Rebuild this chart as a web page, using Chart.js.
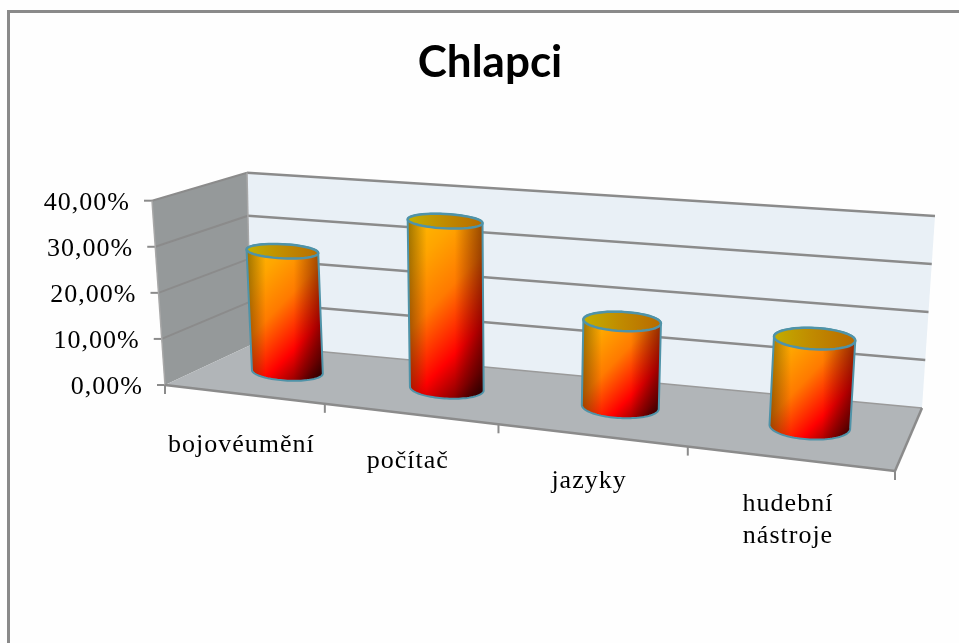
<!DOCTYPE html>
<html>
<head>
<meta charset="utf-8">
<title>Chlapci</title>
<style>html,body{margin:0;padding:0;background:#fefefe;overflow:hidden}canvas{display:block}</style>
<script src="https://cdn.jsdelivr.net/npm/chart.js@4"></script>
</head>
<body>
<canvas id="chart" width="959" height="643"></canvas>
<script>
// Series shown in the chart
const chartTitle = 'Chlapci';
const categories = ['bojovéumění', 'počítač', 'jazyky', ['hudební', 'nástroje']];
const shares = [26.7, 36, 17.8, 17.8];
const axisMax = 40;
const axisStep = 10;

// Perspective box: corners of the floor and of the ceiling plane, in canvas pixels
// (front-left, front-right, back-right, back-left).
const floorQuad = [[165, 385], [895, 471], [922, 408], [250.7, 345]];
const ceilQuad = [[152, 200.7], [915, 258], [935, 216], [247, 172.7]];
const FORESHORTENING = -0.159;
const BAR_DEPTH_CENTER = 0.53;
const BAR_DEPTH_RADIUS = 0.21;
const RING_TILT = 0.05;
const BASE_NUDGE = 2;

const lerp = (a, b, k) => [a[0] + (b[0] - a[0]) * k, a[1] + (b[1] - a[1]) * k];
const warp = u => u * (1 + FORESHORTENING) / (1 + FORESHORTENING * u);
function planeAt(q, u, v) {
  const w = warp(u);
  return lerp(lerp(q[0], q[1], w), lerp(q[3], q[2], w), v);
}

// u: along the category axis, v: depth, t: height; all 0..1
function project(u, v, t) {
  return lerp(planeAt(floorQuad, u, v), planeAt(ceilQuad, u, v), t);
}
const relU = (chart, px) => (px - chart.chartArea.left) / (chart.chartArea.right - chart.chartArea.left);
const relT = (chart, py) => (chart.chartArea.bottom - py) / (chart.chartArea.bottom - chart.chartArea.top);

function polygon(ctx, pts, fill) {
  ctx.beginPath();
  pts.forEach((p, i) => i ? ctx.lineTo(p[0], p[1]) : ctx.moveTo(p[0], p[1]));
  ctx.closePath();
  ctx.fillStyle = fill;
  ctx.fill();
}
function segment(ctx, a, b, color, width) {
  ctx.beginPath();
  ctx.moveTo(a[0], a[1]);
  ctx.lineTo(b[0], b[1]);
  ctx.strokeStyle = color;
  ctx.lineWidth = width;
  ctx.stroke();
}

const LINE = '#8b8b8b';
const INK = '#000000';
const percentText = v => v.toFixed(2).replace('.', ',') + '%';

function spacedText(ctx, text, x, y, align) {
  ctx.font = '26px "Liberation Serif"';
  ctx.letterSpacing = '1px';
  ctx.fillStyle = INK;
  ctx.textAlign = align;
  ctx.textBaseline = 'middle';
  ctx.fillText(text, x, y);
  ctx.letterSpacing = '0px';
}

// Walls, floor, grid lines, ticks and axis labels of the perspective box.
const boxPlugin = {
  id: 'perspectiveBox',
  beforeDraw(chart) {
    const ctx = chart.ctx;
    ctx.save();
    ctx.fillStyle = '#fefefe';
    ctx.fillRect(0, 0, chart.width, chart.height);
    ctx.strokeStyle = '#8a8a8a';
    ctx.lineWidth = 3;
    ctx.beginPath();
    ctx.moveTo(8.5, 643);
    ctx.lineTo(8.5, 11.5);
    ctx.lineTo(959, 11.5);
    ctx.stroke();
    ctx.restore();
  },
  beforeDatasetsDraw(chart) {
    const ctx = chart.ctx;
    const xs = chart.scales.x, ys = chart.scales.y;
    ctx.save();
    polygon(ctx, [project(0, 1, 0), project(1, 1, 0), project(1, 1, 1), project(0, 1, 1)], '#e9f0f6');
    polygon(ctx, [project(0, 0, 0), project(0, 1, 0), project(0, 1, 1), project(0, 0, 1)], '#95999a');
    polygon(ctx, [project(0, 0, 0), project(1, 0, 0), project(1, 1, 0), project(0, 1, 0)], '#b1b5b8');

    ys.ticks.forEach(tick => {
      const t = relT(chart, ys.getPixelForValue(tick.value));
      const corner = project(0, 1, t);
      const front = project(0, 0, t);
      if (tick.value > 0) {
        segment(ctx, front, corner, LINE, 2);
        segment(ctx, corner, project(1, 1, t), LINE, 2.5);
      } else {
        segment(ctx, corner, project(1, 1, t), '#9a9a9a', 1.5);
      }
      segment(ctx, [front[0] - 8, front[1]], front, LINE, 2);
      spacedText(ctx, percentText(tick.value), front[0] - 22, front[1] + 2, 'right');
    });

    segment(ctx, project(0, 0, 0), project(0, 0, 1), '#a8a8a8', 1.5);
    segment(ctx, project(0, 1, 0), project(0, 1, 1), '#a8a8a8', 1.5);
    segment(ctx, project(0, 0, 0), project(1, 0, 0), LINE, 2.5);
    segment(ctx, project(1, 0, 0), project(1, 1, 0), LINE, 2.5);

    const n = categories.length;
    for (let i = 0; i <= n; i++) {
      const p = project(i / n, 0, 0);
      segment(ctx, p, [p[0], p[1] + 9], LINE, 2);
    }

    const labelDrop = [51, 47, 46, 46];
    categories.forEach((label, i) => {
      const u = relU(chart, xs.getPixelForValue(i));
      const p = project(u, 0, 0);
      const lines = Array.isArray(label) ? label : [label];
      lines.forEach((line, k) => {
        spacedText(ctx, line, p[0] - 2 + (i === 3 ? 1 : 0), p[1] + labelDrop[i] + k * 32, 'center');
      });
    });
    ctx.restore();
  }
};

// Bars drawn as cylinders standing on the perspective floor.
class CylinderController extends Chart.BarController {
  draw() {
    const chart = this.chart, ctx = chart.ctx;
    this.getMeta().data.forEach(bar => {
      const u = relU(chart, bar.x);
      const du = bar.width / 2 / (chart.chartArea.right - chart.chartArea.left);
      const t = relT(chart, bar.y);
      const ring = (level, from, to) => {
        const c = project(u, BAR_DEPTH_CENTER, level);
        const cx = c[0] + BASE_NUDGE * (1 - level);
        // Ring width follows the perspective only halfway, so the widths stay close together
        const rawRx = (project(u + du, BAR_DEPTH_CENTER, level)[0] - project(u - du, BAR_DEPTH_CENTER, level)[0]) / 2;
        const rx = rawRx * 0.5 + 19;
        const ry = (project(u, BAR_DEPTH_CENTER - BAR_DEPTH_RADIUS, level)[1] - project(u, BAR_DEPTH_CENTER + BAR_DEPTH_RADIUS, level)[1]) / 2;
        const pts = [];
        for (let k = 0; k <= 48; k++) {
          const a = from + (to - from) * k / 48;
          pts.push([cx + rx * Math.cos(a), c[1] - ry * Math.sin(a) + RING_TILT * rx * Math.cos(a)]);
        }
        return pts;
      };
      const top = ring(t, 0, Math.PI * 2);
      const backArc = ring(t, 0, Math.PI);
      const frontArc = ring(0, Math.PI, Math.PI * 2);
      const outline = backArc.concat(frontArc);
      const all = outline.concat(top);
      const left = Math.min(...all.map(p => p[0])), right = Math.max(...all.map(p => p[0]));
      const upper = Math.min(...all.map(p => p[1])), lower = Math.max(...all.map(p => p[1]));

      const trace = pts => {
        ctx.beginPath();
        pts.forEach((p, i) => i ? ctx.lineTo(p[0], p[1]) : ctx.moveTo(p[0], p[1]));
        ctx.closePath();
      };

      ctx.save();
      // Diagonal yellow-to-red-to-black body shading
      const nx = 0.72, ny = 0.69;
      const span = nx * (right - left) + ny * (lower - upper);
      const body = ctx.createLinearGradient(left, upper, left + nx * span, upper + ny * span);
      body.addColorStop(0, '#ffc000');
      body.addColorStop(0.22, '#ffa500');
      body.addColorStop(0.45, '#ff7a00');
      body.addColorStop(0.72, '#ff0000');
      body.addColorStop(0.88, '#900000');
      body.addColorStop(1, '#200000');
      trace(outline);
      ctx.fillStyle = body;
      ctx.fill();

      // Curved-surface darkening toward both sides
      const side = ctx.createLinearGradient(left, 0, right, 0);
      side.addColorStop(0, 'rgba(40,30,0,0.45)');
      side.addColorStop(0.25, 'rgba(40,30,0,0)');
      side.addColorStop(0.62, 'rgba(40,0,0,0)');
      side.addColorStop(1, 'rgba(40,0,0,0.5)');
      ctx.fillStyle = side;
      ctx.fill();

      ctx.strokeStyle = '#4f93a8';
      ctx.lineWidth = 2;
      ctx.lineJoin = 'round';
      ctx.stroke();

      const cap = ctx.createLinearGradient(left, 0, right, 0);
      cap.addColorStop(0, '#c4b000');
      cap.addColorStop(0.5, '#c08a00');
      cap.addColorStop(1, '#b86a00');
      trace(top);
      ctx.fillStyle = cap;
      ctx.fill();
      ctx.lineWidth = 2.5;
      ctx.stroke();
      ctx.restore();
    });
  }
}
CylinderController.id = 'cylinder';
CylinderController.defaults = Chart.BarController.defaults;
CylinderController.overrides = Chart.BarController.overrides;
Chart.register(CylinderController);

new Chart(document.getElementById('chart'), {
  type: 'cylinder',
  data: {
    labels: categories,
    datasets: [{
      label: chartTitle,
      data: shares,
      clip: false,
      barPercentage: 0.43,
      categoryPercentage: 1
    }]
  },
  plugins: [boxPlugin],
  options: {
    responsive: false,
    animation: false,
    layout: { padding: { left: 21 } },
    plugins: {
      legend: { display: false },
      tooltip: { enabled: false },
      title: {
        display: true,
        text: chartTitle,
        color: '#000000',
        font: { family: 'Lato', size: 44, weight: 'bold', lineHeight: 1.2 },
        padding: { top: 36, bottom: 112 }
      }
    },
    scales: {
      x: {
        type: 'category',
        grid: { display: false },
        border: { display: false },
        ticks: { display: false },
        afterFit(s) { s.height = 258; }
      },
      y: {
        type: 'linear',
        position: 'left',
        min: 0,
        max: axisMax,
        grid: { display: false },
        border: { display: false },
        ticks: { display: false, stepSize: axisStep },
        afterFit(s) { s.width = 144; }
      },
      rightGutter: {
        type: 'linear',
        position: 'right',
        display: true,
        grid: { display: false },
        border: { display: false },
        ticks: { display: false },
        afterFit(s) { s.width = 64; }
      }
    }
  }
});
</script>
</body>
</html>
